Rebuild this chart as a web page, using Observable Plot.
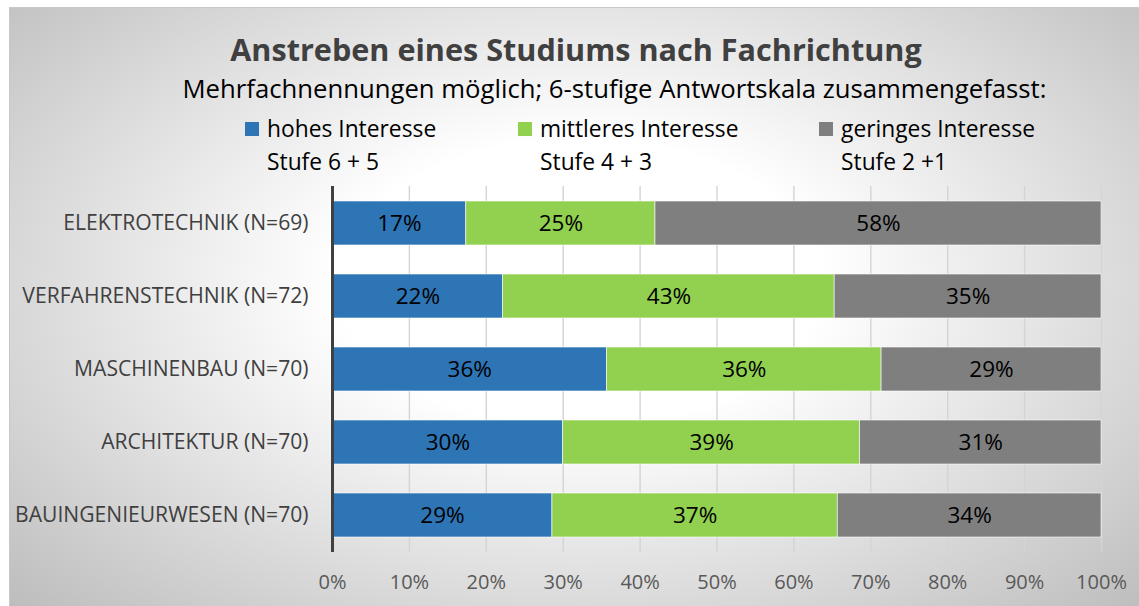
<!DOCTYPE html>
<html>
<head>
<meta charset="utf-8">
<script src="https://cdn.jsdelivr.net/npm/d3@7"></script>
<script src="https://cdn.jsdelivr.net/npm/@observablehq/plot@0.6"></script>
<style>
  html, body { margin: 0; padding: 0; background: #fff; }
  #page { position: relative; width: 1139px; height: 606px; overflow: hidden; font-family: "Open Sans", Lato, sans-serif; }
  #frame { position: absolute; left: 9px; top: 7px; width: 1140px; height: 610px; border: 1px solid #c8c8c8;
    background: radial-gradient(ellipse farthest-corner at 50% 45%, #ffffff 0%, #ffffff 30%, #bbbbbb 100%); }
  .t { position: absolute; white-space: nowrap; }
  #title { left: 0; width: 1152px; top: 29px; text-align: center; font-weight: bold; font-size: 30.6px; color: #404040; line-height: 40px; }
  #subtitle { left: 0; width: 1229px; top: 72px; text-align: center; font-size: 25.7px; color: #000; line-height: 34px; }
  .lg { position: absolute; font-size: 22.8px; color: #000; line-height: 33px; }
  .sw { position: absolute; width: 14px; height: 14px; }
  #chart { position: absolute; left: 0; top: 0; }
</style>
</head>
<body>
<div id="page">
  <div id="frame"></div>
  <div id="title" class="t">Anstreben eines Studiums nach Fachrichtung</div>
  <div id="subtitle" class="t">Mehrfachnennungen möglich; 6-stufige Antwortskala zusammengefasst:</div>
  <div id="legend"></div>
  <div id="chart"></div>
</div>
<script>
const categories = [
  "ELEKTROTECHNIK (N=69)",
  "VERFAHRENSTECHNIK (N=72)",
  "MASCHINENBAU (N=70)",
  "ARCHITEKTUR (N=70)",
  "BAUINGENIEURWESEN (N=70)"
];
const seriesNames = ["hohes Interesse", "mittleres Interesse", "geringes Interesse"];
const seriesSub = ["Stufe 6 + 5", "Stufe 4 + 3", "Stufe 2 +1"];
const seriesColors = ["#2e75b6", "#92d050", "#7f7f7f"];
const hohes     = [17.4, 22.2, 35.7, 30.0, 28.6];
const mittleres = [24.6, 43.1, 35.7, 38.6, 37.1];
const geringes  = [58.0, 34.7, 28.6, 31.4, 34.3];
const xTicks = [0, 10, 20, 30, 40, 50, 60, 70, 80, 90, 100];

const seriesValues = [hohes, mittleres, geringes];
const data = [];
categories.forEach((c, i) => {
  seriesNames.forEach((s, j) => data.push({cat: c, series: s, value: seriesValues[j][i]}));
});

// legend
const legend = document.getElementById("legend");
const legendX = [245, 518, 819];
seriesNames.forEach((s, j) => {
  const sw = document.createElement("div");
  sw.className = "sw";
  sw.style.left = legendX[j] + "px";
  sw.style.top = "122px";
  sw.style.background = seriesColors[j];
  legend.appendChild(sw);
  const t = document.createElement("div");
  t.className = "lg";
  t.style.left = (legendX[j] + 22) + "px";
  t.style.top = "112px";
  t.innerHTML = s + "<br>" + seriesSub[j];
  legend.appendChild(t);
});

const chart = Plot.plot({
  width: 1139,
  height: 606,
  marginLeft: 332,
  marginRight: 38,
  marginTop: 186,
  marginBottom: 54,
  style: {background: "transparent", fontFamily: "'Open Sans', Lato, sans-serif", overflow: "visible"},
  x: {domain: [0, 100], label: null},
  y: {domain: categories, paddingInner: 0.4, paddingOuter: 0.2, label: null},
  color: {domain: seriesNames, range: seriesColors},
  marks: [
    Plot.gridX(xTicks, {stroke: "#d4d4d4", strokeOpacity: 1, strokeWidth: 1.4}),
    Plot.barX(data, Plot.stackX({x: "value", y: "cat", fill: "series", order: seriesNames, stroke: "#ffffff", strokeWidth: 0.6})),
    Plot.text(data, Plot.stackX({x: "value", y: "cat", z: "series", order: seriesNames,
      text: d => Math.round(d.value) + "%", fill: "#000", fontSize: 22.5})),
    Plot.ruleX([0], {stroke: "#404040", strokeWidth: 3}),
    Plot.axisX(xTicks, {tickSize: 0, tickPadding: 22, tickFormat: d => d + "%", fontSize: 20, fill: "#595959", label: null}),
    Plot.axisY({tickSize: 0, tickPadding: 24, fontSize: 21.1, fill: "#404040", label: null})
  ]
});
document.getElementById("chart").appendChild(chart);
</script>
</body>
</html>
